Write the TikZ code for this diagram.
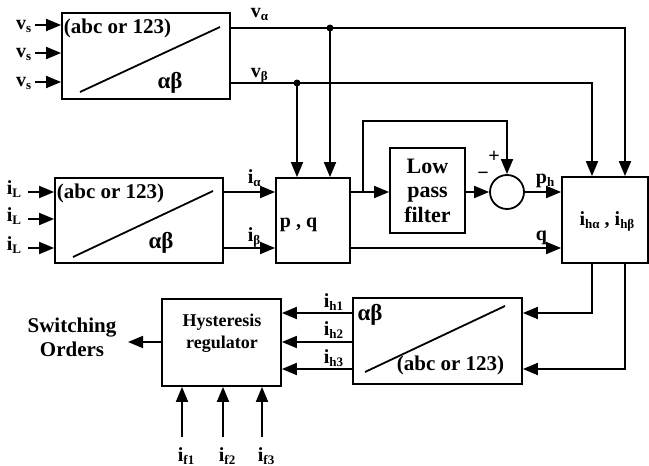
\documentclass[tikz,border=0pt]{standalone}
\usepackage{fontspec}
\setmainfont{Liberation Serif}
\usetikzlibrary{arrows.meta,positioning}

\newcommand{\sbs}[1]{\raisebox{-3pt}{\fontsize{13}{13}\selectfont #1}}

\begin{document}
\begin{tikzpicture}[x=1pt,y=-1pt,line width=1.8pt,
  blk/.style={draw,inner sep=0pt,font=\fontsize{20}{22}\selectfont\bfseries},
  lbl/.style={inner sep=0pt,font=\fontsize{20}{22}\selectfont\bfseries},
  abc/.style={inner sep=0pt,font=\fontsize{21}{22}\selectfont\bfseries},
  grk/.style={inner sep=0pt,font=\fontsize{23}{24}\selectfont\bfseries},
  sig/.style={-{Triangle[length=15pt,width=12pt]}},
  dot/.style={fill=black,circle,inner sep=0pt,minimum size=7pt}]
  \useasboundingbox (0,0) rectangle (649,466);

  % blocks
  \node[blk,minimum width=168pt,minimum height=86pt] (tv) at (146,56) {};
  \node[blk,minimum width=168pt,minimum height=85pt] (ti) at (139,220.5) {};
  \node[blk,minimum width=74pt,minimum height=85pt] (pq) at (313,220.5) {};
  \node[blk,minimum width=75pt,minimum height=85pt,align=center,font=\fontsize{22}{24.5}\selectfont\bfseries] (lpf) at (427.5,190.5) {Low\\pass\\filter};
  \node[draw,circle,minimum size=34pt,inner sep=0pt] (sum) at (507,192) {};
  \node[blk,minimum width=86pt,minimum height=86pt] (ih) at (605,220) {};
  \node[blk,minimum width=169pt,minimum height=86pt] (tb) at (437.5,341) {};
  \node[blk,minimum width=119pt,minimum height=87pt] (hy) at (221.5,342.5) {};

  % texts in the blocks
  \draw (80,92) -- (220,27);
  \draw (73,257) -- (213,191);
  \draw (365,372) -- (505,306);
  \node[abc,anchor=base west] (tvtop) at (63,33) {(abc or 123)};
  \node[grk,anchor=base] (tvab) at (170,88) {αβ};
  \node[abc,anchor=base west] (titop) at (56,198) {(abc or 123)};
  \node[grk,anchor=base] (tiab) at (161,248) {αβ};
  \node[abc,anchor=base west] (tbtop) at (396,370) {(abc or 123)};
  \node[grk,anchor=base] (tbab) at (370,320) {αβ};
  \node[lbl,anchor=base west] (pqt) at (279,227) {p , q};
  \node[lbl,anchor=base] (iht) at (607,225) {i\sbs{hα} , i\sbs{hβ}};
  \node[lbl,align=center,font=\fontsize{18}{22}\selectfont\bfseries] (hyt) at (222,333) {Hysteresis\\regulator};
  \node[lbl,align=center,font=\fontsize{21}{24}\selectfont\bfseries] (so) at (72,337) {Switching\\Orders};

  % inputs
  \foreach \y [count=\k] in {25,53,82}{
    \coordinate (vs\k) at (35,\y);
    \node[lbl,anchor=base east] (vsl\k) at (32,\y+4) {v\sbs{s}};
    \draw[sig] (vs\k) -- (tv.west|-vs\k);
  }
  \foreach \y [count=\k] in {192,219,248}{
    \coordinate (il\k) at (28,\y);
    \node[lbl,anchor=base east] (ill\k) at (22,\y+2) {i\sbs{L}};
    \draw[sig] (il\k) -- (ti.west|-il\k);
  }

  % v alpha, v beta
  \coordinate (vad) at (330,28);
  \coordinate (vac) at (625,28);
  \coordinate (vbd) at (297,83);
  \coordinate (vbc) at (592,83);
  \node[lbl,anchor=base west] (val) at (250,17) {v\sbs{α}};
  \node[lbl,anchor=base west] (vbl) at (250,77) {v\sbs{β}};
  \draw[sig] (tv.east|-vad) -- (vac) -- (vac|-ih.north);
  \draw[sig] (tv.east|-vbd) -- (vbc) -- (vbc|-ih.north);
  \draw[sig] (vad) -- (vad|-pq.north);
  \draw[sig] (vbd) -- (vbd|-pq.north);
  \node[dot] (vadot) at (vad) {};
  \node[dot] (vbdot) at (vbd) {};

  % i alpha, i beta, p, q
  \coordinate (ra) at (0,192);
  \coordinate (rb) at (0,248);
  \coordinate (br) at (363,192);
  \coordinate (fb) at (0,121);
  \node[lbl,anchor=base west] (ial) at (247,183) {i\sbs{α}};
  \node[lbl,anchor=base west] (ibl) at (247,241) {i\sbs{β}};
  \draw[sig] (ti.east|-ra) -- (pq.west|-ra);
  \draw[sig] (ti.east|-rb) -- (pq.west|-rb);
  \draw[sig] (pq.east|-ra) -- (lpf.west|-ra);
  \draw[sig] (br) -- (br|-fb) -| (sum.north);
  \draw[sig] (lpf.east|-sum) -- (sum.west);
  \draw[sig] (sum.east) -- (ih.west|-sum);
  \draw[sig] (pq.east|-rb) -- (ih.west|-rb);
  \node[lbl] (plus) at (494,157) {+};
  \node[lbl] (minus) at (483,176) {−};
  \node[lbl,anchor=base west] (phl) at (535,183) {p\sbs{h}};
  \node[lbl,anchor=base west] (ql) at (535,240) {q};

  % back to abc
  \coordinate (hb1) at (592,313);
  \coordinate (hb2) at (625,369);
  \draw[sig] (ih.south-|hb1) -- (hb1) -- (tb.east|-hb1);
  \draw[sig] (ih.south-|hb2) -- (hb2) -- (tb.east|-hb2);

  % hysteresis regulator
  \foreach \y [count=\k] in {313,342,369}{
    \coordinate (ho\k) at (300,\y);
    \draw[sig] (tb.west|-ho\k) -- (hy.east|-ho\k);
  }
  \node[lbl,anchor=base west] (ih1) at (323,307) {i\sbs{h1}};
  \node[lbl,anchor=base west] (ih2) at (323,335) {i\sbs{h2}};
  \node[lbl,anchor=base west] (ih3) at (323,363) {i\sbs{h3}};
  \coordinate (soend) at (128,342);
  \draw[sig] (hy.west|-soend) -- (soend);
  \foreach \x [count=\k] in {182,223,262}{
    \coordinate (f\k) at (\x,437);
    \draw[sig] (f\k) -- (f\k|-hy.south);
    \node[lbl,anchor=base west] (fl\k) at (\x-5,461) {i\sbs{f\k}};
  }
\end{tikzpicture}
\end{document}
